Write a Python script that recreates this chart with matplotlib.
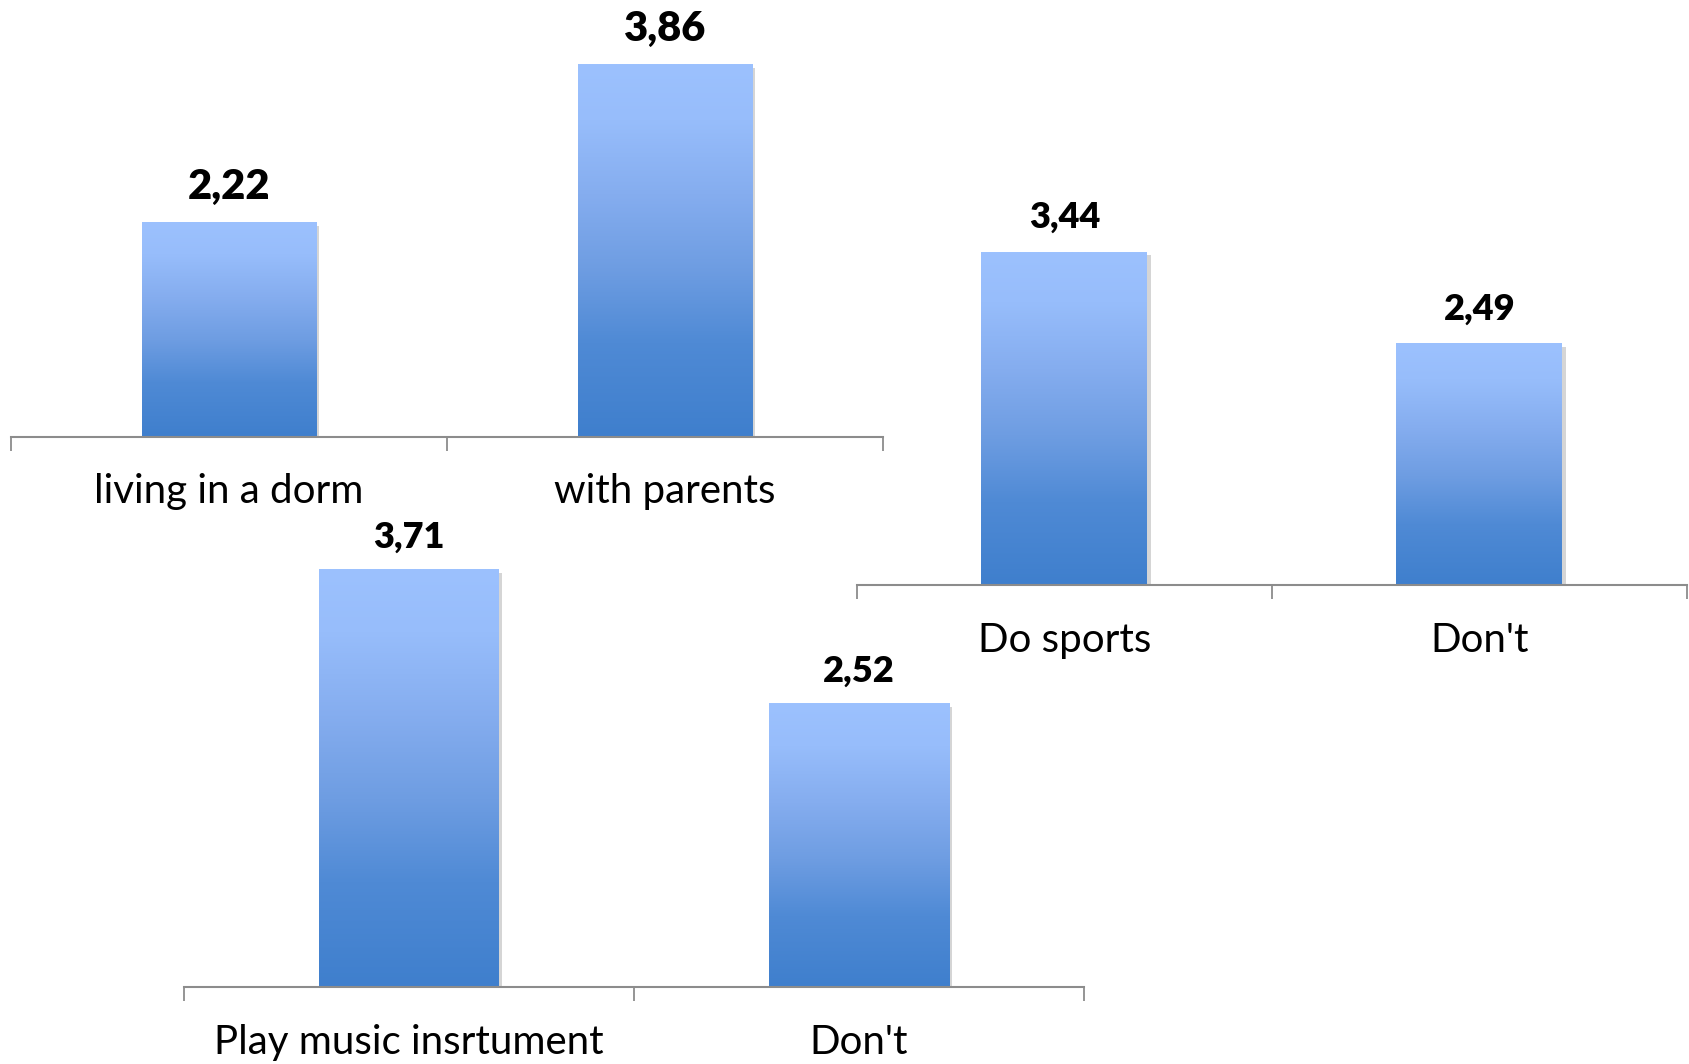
import numpy as np
import matplotlib
matplotlib.use("Agg")
import matplotlib.pyplot as plt
from matplotlib.colors import LinearSegmentedColormap
import matplotlib.patheffects as pe

# ---------------- data ----------------
housing_labels = ["living in a dorm", "with parents"]
housing_values = [2.22, 3.86]
sports_labels = ["Do sports", "Don't"]
sports_values = [3.44, 2.49]
music_labels = ["Play music insrtument", "Don't"]
music_values = [3.71, 2.52]

FAM = ["Lato", "DejaVu Sans"]

W, H = 1690, 1064
fig = plt.figure(figsize=(W / 100, H / 100), dpi=100)
fig.patch.set_facecolor("white")

grad_cmap = LinearSegmentedColormap.from_list(
    "bar", [(0.0, "#3f7fcd"), (0.25, "#4f8ad5"), (0.45, "#6e9de2"),
            (0.65, "#85adef"), (0.85, "#97bdfb"), (1.0, "#9cc1fe")])
grad = np.linspace(1, 0, 256).reshape(-1, 1)


def draw_chart(labels, values, left, right, base_y, ppu, ymax, val_fs, val_off, cat_fs):
    ax = fig.add_axes([left / W, (H - base_y) / H, (right - left) / W, ymax * ppu / H])
    ax.patch.set_visible(False)
    x = np.arange(len(values))
    bars = ax.bar(x, values, width=0.4, color="#5b8fd8", zorder=2,
                  path_effects=[pe.SimplePatchShadow(offset=(2.5, -2.5), shadow_rgbFace="#888888", alpha=0.35),
                                pe.Normal()])
    for b, v in zip(bars, values):
        ax.imshow(grad, extent=(b.get_x(), b.get_x() + b.get_width(), 0, v),
                  aspect="auto", cmap=grad_cmap, vmin=0, vmax=1, zorder=3,
                  interpolation="bilinear")
        ax.annotate(f"{v:.2f}".replace(".", ","), xy=(b.get_x() + b.get_width() / 2, v),
                    xytext=(0, val_off), textcoords="offset points", ha="center", va="center",
                    fontsize=val_fs, fontweight="heavy", family=FAM,
                    color="black", zorder=5)
    for i, lab in enumerate(labels):
        ax.annotate(lab, xy=(i, 0), xytext=(0, -48), textcoords="offset points",
                    ha="center", va="baseline", fontsize=cat_fs, family=FAM,
                    color="black", annotation_clip=False)
    ax.set_xlim(-0.5, len(values) - 0.5)
    ax.set_ylim(0, ymax)
    for s in ["top", "right", "left"]:
        ax.spines[s].set_visible(False)
    ax.spines["bottom"].set_color("#8c8c8c")
    ax.spines["bottom"].set_linewidth(1.5)
    ax.spines["bottom"].set_zorder(4)
    ax.set_yticks([])
    ax.set_xticks(np.arange(len(values) + 1) - 0.5)
    ax.set_xticklabels([])
    ax.tick_params(axis="x", length=10, width=1.3, color="#8c8c8c", direction="out")
    return ax


draw_chart(housing_labels, housing_values, 10.8, 882.7, 436.5, 96.25, 4.4, 30, 26, 29)
draw_chart(sports_labels, sports_values, 857, 1687, 585, 96.8, 4.2, 26, 25, 29)
draw_chart(music_labels, music_values, 184, 1084, 987, 112.4, 4.0, 26, 23.5, 29)

fig.savefig("out.png", dpi=100, facecolor="white")
